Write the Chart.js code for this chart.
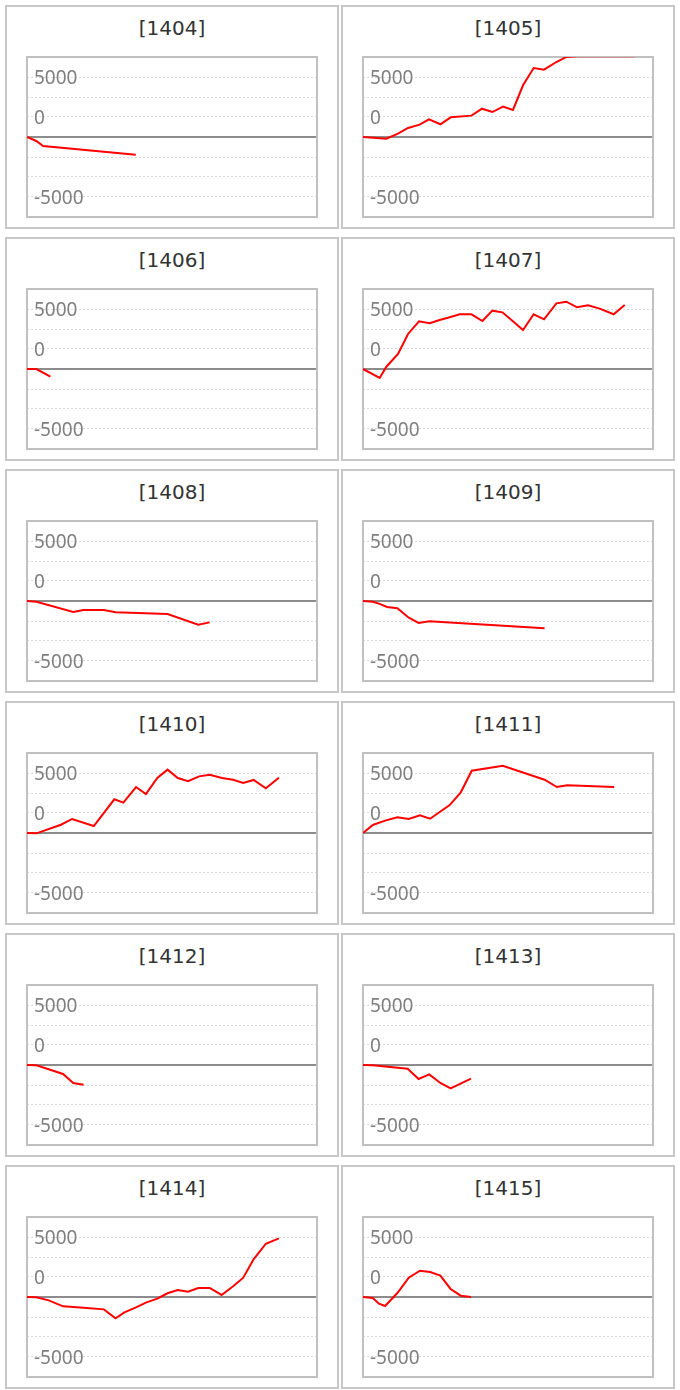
<!DOCTYPE html>
<html>
<head>
<meta charset="utf-8">
<title>Monthly P&L</title>
<script src="https://cdn.jsdelivr.net/npm/chart.js@4.4.1/dist/chart.umd.min.js"></script>
<style>
    html, body { margin: 0; padding: 0; background: #fff; }
    #panels {
        position: absolute;
        left: 5px;
        top: 5px;
        display: grid;
        grid-template-columns: 334px 334px;
        grid-auto-rows: 224px;
        column-gap: 2px;
        row-gap: 8px;
    }
    .panel {
        position: relative;
        box-sizing: border-box;
        border: 2px solid #c8c8c8;
        background: #fff;
    }
    .panel .title {
        position: absolute;
        left: 0;
        right: 0;
        top: 10px;
        line-height: 22px;
        text-align: center;
        font-family: "DejaVu Sans", sans-serif;
        font-size: 20px;
        color: #333;
    }
    .panel canvas {
        position: absolute;
        left: 19px;
        top: 49px;
    }
</style>
</head>
<body>
<div id="panels"></div>
<script>
// x = trading session index, y = cumulative result
const x1404 = [0, 0.9, 1.55, 10.5];
const y1404 = [0, -330, -750, -1470];

const x1405 = [0, 2.25, 3.38, 4.35, 5.47, 6.37, 7.47, 8.47, 10.47, 11.49, 12.49, 13.52, 14.48, 15.45, 16.48, 17.48, 18.67, 19.64, 20.66, 21.73, 22.85, 24.2, 25.27, 26.23];
const y1405 = [0, -140, 280, 750, 1030, 1470, 1060, 1640, 1780, 2360, 2080, 2530, 2250, 4310, 5750, 5610, 6250, 6670, 6720, 6740, 6720, 6750, 6730, 6720];

const x1406 = [0, 0.9, 2.26];
const y1406 = [0, 0, -640];

const x1407 = [0, 1.61, 2.26, 3.38, 4.35, 5.41, 6.44, 7.4, 8.37, 9.34, 10.47, 11.53, 12.49, 13.46, 14.48, 15.45, 16.48, 17.48, 18.67, 19.64, 20.66, 21.73, 22.85, 24.2, 25.27];
const y1407 = [0, -750, 190, 1250, 2920, 3970, 3810, 4080, 4310, 4560, 4560, 4000, 4860, 4720, 3970, 3250, 4560, 4140, 5470, 5610, 5140, 5310, 5030, 4560, 5330];

const x1408 = [0, 0.91, 4.47, 5.46, 7.43, 8.55, 13.57, 16.53, 17.64];
const y1408 = [0, -60, -920, -750, -750, -940, -1080, -1970, -1780];

const x1409 = [0, 0.95, 1.54, 2.33, 3.32, 4.42, 5.37, 6.4, 17.53];
const y1409 = [0, -60, -220, -500, -610, -1390, -1830, -1690, -2280];

const x1410 = [0, 0.91, 3.28, 4.35, 6.45, 8.43, 9.3, 10.53, 11.48, 12.58, 13.57, 14.56, 15.55, 16.62, 17.64, 18.83, 19.9, 20.88, 21.88, 23.06, 24.32];
const y1410 = [0, -30, 690, 1170, 580, 2810, 2530, 3830, 3250, 4580, 5280, 4580, 4310, 4720, 4860, 4580, 4440, 4170, 4420, 3720, 4610];

const x1411 = [0, 0.95, 2.13, 3.32, 4.42, 5.49, 6.48, 8.37, 9.44, 10.5, 13.5, 17.53, 18.72, 19.71, 24.25];
const y1411 = [0, 670, 1030, 1310, 1170, 1470, 1190, 2330, 3390, 5190, 5610, 4440, 3830, 3970, 3830];

const x1412 = [0, 0.91, 3.48, 4.47, 5.46];
const y1412 = [0, -30, -750, -1500, -1640];

const x1413 = [0, 0.95, 4.31, 5.37, 6.4, 7.47, 8.46, 10.43];
const y1413 = [0, -30, -310, -1170, -780, -1500, -1940, -1140];

const x1414 = [0, 0.91, 2.1, 3.48, 5.46, 7.43, 8.55, 9.41, 10.53, 11.48, 12.58, 13.57, 14.56, 15.55, 16.53, 17.64, 18.79, 19.9, 20.88, 21.88, 23.06, 24.32];
const y1414 = [0, -30, -280, -780, -890, -1030, -1780, -1280, -860, -470, -140, 310, 580, 440, 750, 750, 170, 890, 1610, 3140, 4440, 4890];

const x1415 = [0, 0.95, 1.54, 2.13, 3.32, 4.42, 5.49, 6.48, 7.47, 8.46, 9.44, 10.43];
const y1415 = [0, -80, -560, -750, 330, 1610, 2190, 2080, 1780, 670, 110, 0];

const panelTitles = ['[1404]', '[1405]', '[1406]', '[1407]', '[1408]', '[1409]',
                     '[1410]', '[1411]', '[1412]', '[1413]', '[1414]', '[1415]'];
const seriesX = [x1404, x1405, x1406, x1407, x1408, x1409, x1410, x1411, x1412, x1413, x1414, x1415];
const seriesY = [y1404, y1405, y1406, y1407, y1408, y1409, y1410, y1411, y1412, y1413, y1414, y1415];

const xMin = 0;
const xMax = 28;
const yGridValues = [-6666.67, -5000, -3333.33, -1666.67, 0, 1666.67, 3333.33, 5000, 6666.67];
const yTickLabels = ['', '-5000', '', '', '', '0', '', '5000', ''];

document.addEventListener('DOMContentLoaded', function() {
    const container = document.getElementById('panels');

    const framePlugin = {
        id: 'frame',
        beforeDatasetsDraw(chart) {
            const { ctx, chartArea } = chart;
            ctx.save();
            ctx.strokeStyle = '#c0c0c0';
            ctx.lineWidth = 2;
            ctx.strokeRect(chartArea.left, chartArea.top, chartArea.right - chartArea.left, chartArea.bottom - chartArea.top);
            ctx.restore();
        }
    };

    function isZero(ctx) {
        return ctx.tick && Math.abs(ctx.tick.value) < 1;
    }

    function createPanel(i) {
        const panel = document.createElement('div');
        panel.className = 'panel';

        const title = document.createElement('div');
        title.className = 'title';
        title.textContent = panelTitles[i];
        panel.appendChild(title);

        const canvas = document.createElement('canvas');
        canvas.width = 292;
        canvas.height = 162;
        panel.appendChild(canvas);
        container.appendChild(panel);

        const points = seriesX[i].map((x, k) => ({ x: x, y: seriesY[i][k] }));

        new Chart(canvas.getContext('2d'), {
            type: 'line',
            data: {
                datasets: [{
                    data: points,
                    borderColor: '#ff0000',
                    borderWidth: 2,
                    pointRadius: 0,
                    fill: false,
                    tension: 0
                }]
            },
            options: {
                responsive: false,
                animation: false,
                devicePixelRatio: 1,
                layout: { padding: 1 },
                plugins: {
                    legend: { display: false },
                    tooltip: { enabled: false }
                },
                scales: {
                    x: {
                        type: 'linear',
                        min: xMin,
                        max: xMax,
                        display: false
                    },
                    y: {
                        min: yGridValues[0],
                        max: yGridValues[yGridValues.length - 1],
                        afterBuildTicks: function(scale) {
                            scale.ticks = yGridValues.map(v => ({ value: v }));
                        },
                        afterFit: function(scale) {
                            // labels sit inside the plot, so the axis takes no room
                            scale.width = 0;
                            scale.paddingTop = 0;
                            scale.paddingBottom = 0;
                        },
                        ticks: {
                            mirror: true,
                            autoSkip: false,
                            padding: 7,
                            labelOffset: 2,
                            color: '#808080',
                            font: { family: 'Noto Sans', size: 19 },
                            callback: function(value, index) {
                                return yTickLabels[index];
                            }
                        },
                        grid: {
                            drawTicks: false,
                            color: ctx => isZero(ctx) ? '#8c8c8c' : '#d8d8d8',
                            lineWidth: ctx => isZero(ctx) ? 2 : 1
                        },
                        border: {
                            display: false,
                            dash: ctx => isZero(ctx) ? [] : [2, 2]
                        }
                    }
                }
            },
            plugins: [framePlugin]
        });
    }

    for (let i = 0; i < panelTitles.length; i++) {
        createPanel(i);
    }
});
</script>
</body>
</html>
